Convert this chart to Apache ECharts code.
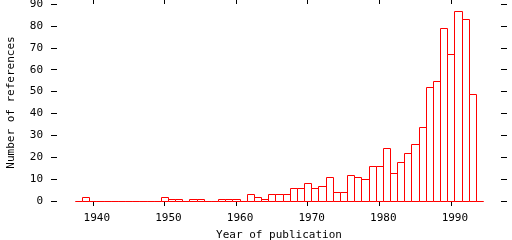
<!DOCTYPE html>
<html><head><meta charset="utf-8">
<script src="https://cdn.jsdelivr.net/npm/echarts@6/dist/echarts.min.js"></script>
<style>html,body{margin:0;padding:0;background:#fff}#c{width:512px;height:240px}</style>
</head><body><div id="c"></div>
<script>
const years = [1938,1939,1940,1941,1942,1943,1944,1945,1946,1947,1948,1949,1950,1951,1952,1953,1954,1955,1956,1957,1958,1959,1960,1961,1962,1963,1964,1965,1966,1967,1968,1969,1970,1971,1972,1973,1974,1975,1976,1977,1978,1979,1980,1981,1982,1983,1984,1985,1986,1987,1988,1989,1990,1991,1992,1993,1994];
const counts = [0,2,0,0,0,0,0,0,0,0,0,0,2,1,1,0,1,1,0,0,1,1,1,0,3,2,1,3,3,3,6,6,8,6,7,11,4,4,12,11,10,16,16,24,13,18,22,26,34,52,55,79,67,87,83,49,0];
const xTicks = [1940,1950,1960,1970,1980,1990];
const yTicks = [0,10,20,30,40,50,60,70,80,90];

const font = 'DejaVu Sans Mono';
const chart = echarts.init(document.getElementById('c'), null, {renderer:'canvas'});
const data = years.map((y,i)=>[y, counts[i]]);
chart.setOption({
  animation:false,
  backgroundColor:'#fff',
  grid:{left:57, right:11, top:4, bottom:39, containLabel:false, outerBoundsMode:'none'},
  xAxis:[{
    type:'value', min:1935, max:1997, position:'bottom',
    name:'Year of publication', nameLocation:'middle', nameGap:29,
    nameTextStyle:{fontFamily:font, fontSize:11, color:'#000'},
    axisLine:{show:false, onZero:false}, splitLine:{show:false},
    axisTick:{show:true, length:5, inside:false, customValues:xTicks, lineStyle:{color:'#000', width:1}},
    axisLabel:{show:true, customValues:xTicks, margin:12, fontFamily:font, fontSize:11, color:'#000', padding:[0,0,0,8], formatter:function(v){return String(v);}}
  },{
    type:'value', min:1935, max:1997, position:'top',
    axisLine:{show:false, onZero:false}, splitLine:{show:false},
    axisTick:{show:true, length:5, customValues:xTicks, lineStyle:{color:'#000', width:1}},
    axisLabel:{show:false}
  }],
  yAxis:[{
    type:'value', min:0, max:90, interval:10, position:'left',
    name:'Number of references', nameLocation:'middle', nameGap:40,
    nameTextStyle:{fontFamily:font, fontSize:11, color:'#000'},
    axisLine:{show:false, onZero:false}, splitLine:{show:false},
    axisTick:{show:true, length:6, lineStyle:{color:'#000', width:1}},
    axisLabel:{margin:14, fontFamily:font, fontSize:11, color:'#000', customValues:yTicks, formatter:function(v){return String(v);}}
  },{
    type:'value', min:0, max:90, interval:10, position:'right',
    axisLine:{show:false, onZero:false}, splitLine:{show:false},
    axisTick:{show:true, length:6, lineStyle:{color:'#000', width:1}},
    axisLabel:{show:false}
  }],
  series:[{
    type:'custom',
    data:data,
    renderItem:function(params, api){
      const y = api.value(0), v = api.value(1);
      const p0 = api.coord([y-0.5, 0]);
      const p1 = api.coord([y+0.5, v]);
      const x0 = Math.round(p0[0])+0.5, x1 = Math.round(p1[0])+0.5;
      const yb = Math.round(p0[1])+0.5, yt = Math.round(p1[1])+0.5;
      return {type:'polygon', shape:{points:[[x0,yb],[x0,yt],[x1,yt],[x1,yb]]},
        style:{fill:'#fff', stroke:'#f00', lineWidth:1}};
    }
  }]
});
</script></body></html>
